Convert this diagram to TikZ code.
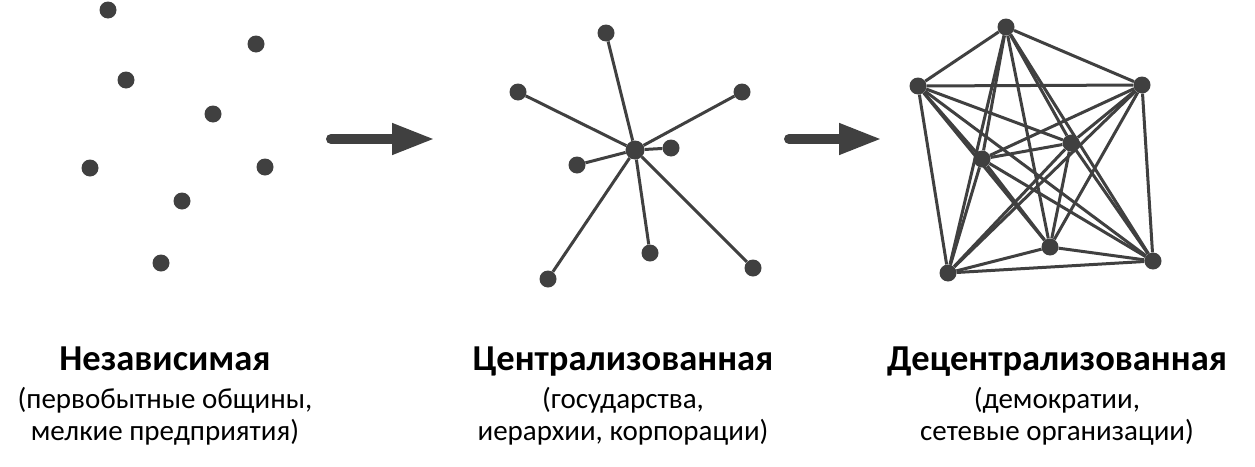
\documentclass[tikz,border=0pt]{standalone}
\usepackage{fontspec}
\setmainfont{Carlito}
\usetikzlibrary{arrows.meta}
\definecolor{ink}{HTML}{404040}
\begin{document}
\begin{tikzpicture}[x=1pt,y=-1pt,
  dot/.style={circle,fill=ink,inner sep=0pt,minimum size=17pt},
  hub/.style={circle,fill=ink,inner sep=0pt,minimum size=19pt},
  edge/.style={draw=ink,line width=3pt},
  bigarrow/.style={draw=ink,line width=10pt,line cap=round,-{Triangle[length=43pt,width=29pt]}},
  title/.style={anchor=base,font=\fontsize{36.5}{40}\selectfont\bfseries,text=black,inner sep=0pt},
  sub/.style={anchor=base,font=\fontsize{29}{32}\selectfont,text=black,inner sep=0pt}]
\useasboundingbox (0,0) rectangle (1255,466);
% independent
\node[dot] (i1) at (108,10) {};
\node[dot] (i2) at (256,44) {};
\node[dot] (i3) at (126,80) {};
\node[dot] (i4) at (213,114) {};
\node[dot] (i5) at (90,168) {};
\node[dot] (i6) at (265,167) {};
\node[dot] (i7) at (182,201) {};
\node[dot] (i8) at (161,263) {};
% centralized
\node[hub] (c0) at (635,150) {};
\node[dot] (c1) at (606,33) {};
\node[dot] (c2) at (518,92) {};
\node[dot] (c3) at (742,92) {};
\node[dot] (c4) at (671,148) {};
\node[dot] (c5) at (577,165) {};
\node[dot] (c6) at (650,253) {};
\node[dot] (c7) at (548,279) {};
\node[dot] (c8) at (753,268) {};
\foreach \j in {1,...,8} \draw[edge] (c0) -- (c\j);
% decentralized
\node[dot] (d1) at (1006,27) {};
\node[dot] (d2) at (918,86) {};
\node[dot] (d3) at (1142,85) {};
\node[dot] (d4) at (982,159) {};
\node[dot] (d5) at (1071,143) {};
\node[dot] (d6) at (1050,247) {};
\node[dot] (d7) at (948,273) {};
\node[dot] (d8) at (1153,261) {};
\foreach \i [evaluate=\i as \k using int(\i+1)] in {1,...,7}
  \foreach \j in {\k,...,8} \draw[edge] (d\i) -- (d\j);
% arrows
\coordinate (a1s) at (331,139);
\coordinate (a1e) at (435,139);
\coordinate (a2s) at (789,139);
\coordinate (a2e) at (882,139);
\draw[bigarrow] (a1s) -- (a1e);
\draw[bigarrow] (a2s) -- (a2e);
% labels
\node[title] (t1) at (165,370) {Независимая};
\node[sub] (t1a) at (165,408) {(первобытные общины,};
\node[sub] (t1b) at (165,440) {мелкие предприятия)};
\node[title] (t2) at (623,370) {Централизованная};
\node[sub] (t2a) at (623,408) {(государства,};
\node[sub] (t2b) at (623,440) {иерархии, корпорации)};
\node[title] (t3) at (1057,370) {Децентрализованная};
\node[sub] (t3a) at (1057,408) {(демократии,};
\node[sub] (t3b) at (1057,440) {сетевые организации)};
\end{tikzpicture}
\end{document}
